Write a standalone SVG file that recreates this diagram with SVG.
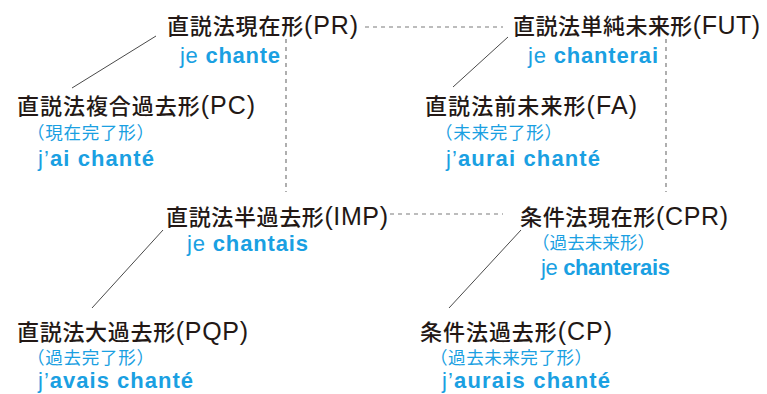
<svg xmlns="http://www.w3.org/2000/svg" width="767" height="394" viewBox="0 0 767 394">
<style>
.t{font-family:"Noto Sans CJK JP","Noto Sans",sans-serif;font-size:22px;font-weight:500;fill:#231815}
.l{font-family:"Liberation Sans",Arial,sans-serif;font-size:25px;font-weight:normal}
.s{font-family:"Noto Sans CJK JP","Noto Sans",sans-serif;font-size:17.5px;fill:#1aa0e2}
.v{font-family:"Liberation Sans",Arial,sans-serif;font-size:22px;fill:#1aa0e2}
.b{font-weight:bold}
.solid{stroke:#4a4a4a;stroke-width:1;fill:none}
.dash{stroke:#7a7a7a;stroke-width:1.2;stroke-dasharray:4 4;fill:none}
</style>
<rect width="767" height="394" fill="#ffffff"/>
<g id="connectors">
<line class="solid" x1="156" y1="36" x2="72" y2="88"/>
<line class="solid" x1="508" y1="37" x2="453" y2="87"/>
<line class="solid" x1="163" y1="230" x2="92" y2="308"/>
<line class="solid" x1="521" y1="230" x2="449" y2="308"/>
<line class="dash" x1="365" y1="27" x2="503" y2="27"/>
<line class="dash" x1="390" y1="214" x2="503" y2="214"/>
<line class="dash" x1="286" y1="39" x2="286" y2="192"/>
<line class="dash" x1="666" y1="39" x2="666" y2="192"/>
</g>
<g id="PR">
<text class="t" x="167" y="34" textLength="191" lengthAdjust="spacing">直説法現在形<tspan class="l">(PR)</tspan></text>
<text class="v" x="180" y="62.5" textLength="100" lengthAdjust="spacing">je <tspan class="b">chante</tspan></text>
</g>
<g id="FUT">
<text class="t" x="513" y="34" textLength="247" lengthAdjust="spacing">直説法単純未来形<tspan class="l">(FUT)</tspan></text>
<text class="v" x="528" y="63" textLength="130" lengthAdjust="spacing">je <tspan class="b">chanterai</tspan></text>
</g>
<g id="PC">
<text class="t" x="17" y="114" textLength="238" lengthAdjust="spacing">直説法複合過去形<tspan class="l">(PC)</tspan></text>
<text class="s" x="27" y="139" textLength="127" lengthAdjust="spacing">（現在完了形）</text>
<text class="v" x="38" y="166" textLength="116" lengthAdjust="spacing">j’<tspan class="b">ai chanté</tspan></text>
</g>
<g id="FA">
<text class="t" x="425" y="114" textLength="212" lengthAdjust="spacing">直説法前未来形<tspan class="l">(FA)</tspan></text>
<text class="s" x="435" y="139" textLength="127" lengthAdjust="spacing">（未来完了形）</text>
<text class="v" x="446" y="166" textLength="154" lengthAdjust="spacing">j’<tspan class="b">aurai chanté</tspan></text>
</g>
<g id="IMP">
<text class="t" x="166" y="225" textLength="222" lengthAdjust="spacing">直説法半過去形<tspan class="l">(IMP)</tspan></text>
<text class="v" x="187" y="251" textLength="121" lengthAdjust="spacing">je <tspan class="b">chantais</tspan></text>
</g>
<g id="CPR">
<text class="t" x="520" y="225" textLength="208" lengthAdjust="spacing">条件法現在形<tspan class="l">(CPR)</tspan></text>
<text class="s" x="532" y="249" textLength="123" lengthAdjust="spacing">（過去未来形）</text>
<text class="v" x="541" y="275" textLength="129" lengthAdjust="spacing">je <tspan class="b">chanterais</tspan></text>
</g>
<g id="PQP">
<text class="t" x="17" y="340" textLength="231" lengthAdjust="spacing">直説法大過去形<tspan class="l">(PQP)</tspan></text>
<text class="s" x="27" y="364" textLength="127" lengthAdjust="spacing">（過去完了形）</text>
<text class="v" x="38" y="387.5" textLength="155" lengthAdjust="spacing">j’<tspan class="b">avais chanté</tspan></text>
</g>
<g id="CP">
<text class="t" x="420" y="340" textLength="192" lengthAdjust="spacing">条件法過去形<tspan class="l">(CP)</tspan></text>
<text class="s" x="430" y="364" textLength="162" lengthAdjust="spacing">（過去未来完了形）</text>
<text class="v" x="442" y="387.5" textLength="168" lengthAdjust="spacing">j’<tspan class="b">aurais chanté</tspan></text>
</g>
</svg>
